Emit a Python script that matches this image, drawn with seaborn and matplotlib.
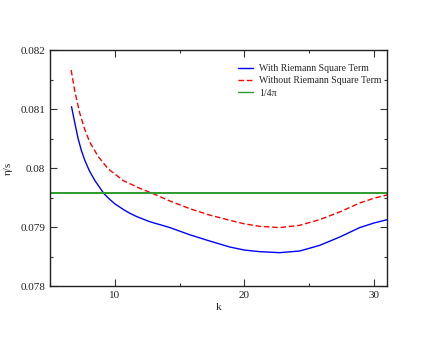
import numpy as np
import pandas as pd
import matplotlib
matplotlib.use("Agg")
import matplotlib.pyplot as plt
import seaborn as sns
from matplotlib.ticker import MultipleLocator, FuncFormatter
from matplotlib.lines import Line2D

k_with = [6.66, 6.92, 7.17, 7.42, 7.69, 8.05, 8.46, 9.17, 9.61, 10.0, 10.72, 11.16,
          11.67, 12.70, 14.19, 15.78, 17.3, 18.87, 20.0, 21.18, 22.72, 24.26, 25.81,
          27.35, 28.89, 30.0, 31.0]
eta_with = [0.081043, 0.080761, 0.080500, 0.080300, 0.080130, 0.079950, 0.079790,
            0.079565, 0.079470, 0.079395, 0.079290, 0.079235, 0.079180, 0.079091,
            0.078996, 0.078870, 0.078765, 0.078662, 0.078610, 0.078583, 0.078566,
            0.078594, 0.078690, 0.078831, 0.078991, 0.079070, 0.079125]

k_without = [6.63, 6.92, 7.30, 7.69, 8.07, 8.71, 9.48, 10.64, 11.93, 13.08, 14.19,
             15.78, 17.3, 18.87, 20.0, 21.18, 22.72, 24.26, 25.81, 27.35, 28.89,
             30.0, 30.69, 31.0]
eta_without = [0.081666, 0.081297, 0.080930, 0.080650, 0.080440, 0.080200, 0.079990,
               0.079790, 0.079658, 0.079556, 0.079448, 0.079313, 0.079205, 0.079115,
               0.079055, 0.079013, 0.078991, 0.079030, 0.079127, 0.079256, 0.079409,
               0.079490, 0.079527, 0.079545]

labels = ["With Riemann Square Term", "Without Riemann Square Term", "1/4\u03c0"]
kss = 1.0 / (4.0 * np.pi)

sns.set_theme(style="ticks")
plt.rcParams['font.family'] = ['Liberation Serif', 'DejaVu Serif']

df = pd.concat([
    pd.DataFrame({"k": k_with, "eta": eta_with, "series": labels[0]}),
    pd.DataFrame({"k": k_without, "eta": eta_without, "series": labels[1]}),
])

fig = plt.figure(figsize=(4.36, 3.37), dpi=100)
ax = fig.add_axes([0.1147, 0.1513, 0.7729, 0.6994])

sns.lineplot(data=df, x="k", y="eta", hue="series", style="series",
             palette={labels[0]: "#0000ff", labels[1]: "#ff0000"},
             dashes={labels[0]: "", labels[1]: (4, 2)},
             linewidth=1.0, ax=ax, sort=False, legend=False)
ax.axhline(kss, color="#2e9a2e", linewidth=1.4)

handles = [Line2D([], [], color="#0000ff", lw=1.0),
           Line2D([], [], color="#ff0000", lw=1.0, ls=(0, (4, 2))),
           Line2D([], [], color="#2e9a2e", lw=1.0)]
ax.legend(handles, labels, loc="upper left", bbox_to_anchor=(0.558, 0.942),
          frameon=False, fontsize=7, handlelength=1.55, handletextpad=0.6,
          labelspacing=0.35, borderaxespad=0, borderpad=0)

ax.set_xlim(5, 31)
ax.set_ylim(0.078, 0.082)
ax.xaxis.set_major_locator(MultipleLocator(10))
ax.xaxis.set_minor_locator(MultipleLocator(5))
ax.yaxis.set_major_locator(MultipleLocator(0.001))
ax.yaxis.set_minor_locator(MultipleLocator(0.0005))
ax.yaxis.set_major_formatter(FuncFormatter(lambda v, p: "%g" % round(v, 4)))

ax.tick_params(which="both", direction="in", top=True, right=True,
               labelsize=8, colors="#333333", labelcolor="#222222", width=0.8)
ax.tick_params(which="major", length=5)
ax.tick_params(which="minor", length=2.5)
for s in ax.spines.values():
    s.set_linewidth(1.0)
    s.set_color("#222222")

ax.set_xlabel("k", fontsize=8, labelpad=2)
ax.set_ylabel("\u03b7/s", fontsize=8, labelpad=8)
ax.yaxis.set_label_coords(-0.11, 0.5)

fig.savefig("out.png", dpi=100)
